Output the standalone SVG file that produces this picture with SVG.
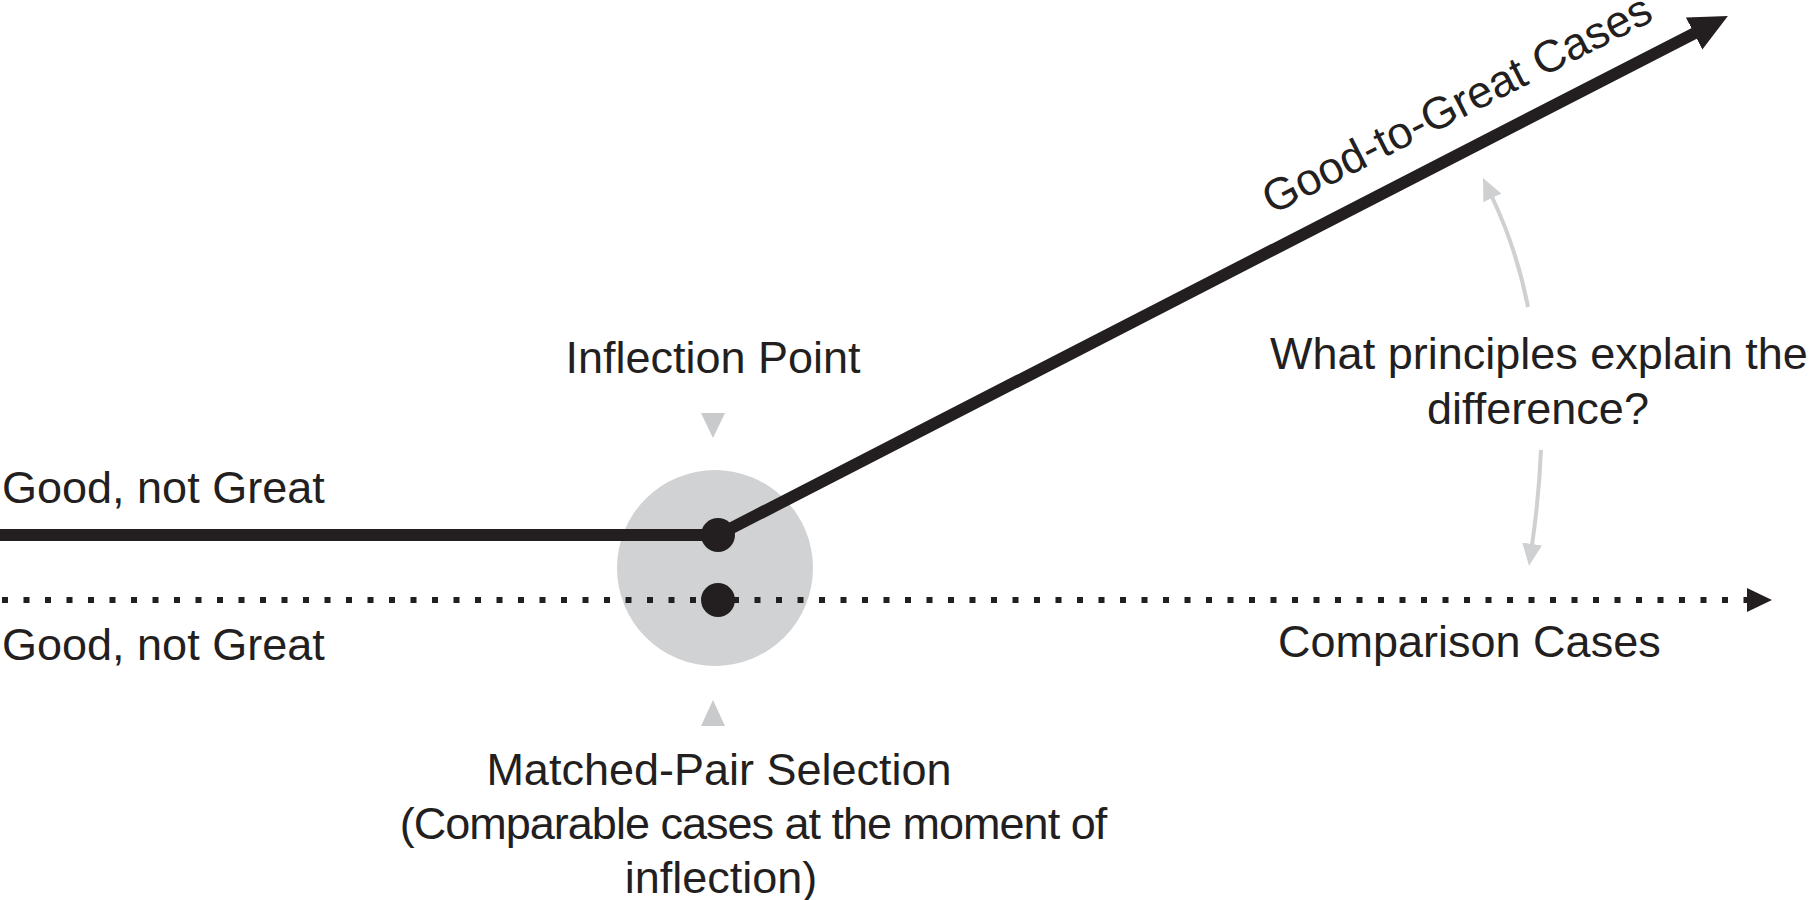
<svg xmlns="http://www.w3.org/2000/svg" width="1809" height="900" viewBox="0 0 1809 900">
<style>
text{font-family:"Liberation Sans",Arial,sans-serif;font-size:45px;fill:#231f20}
.mid{text-anchor:middle}
.solid{fill:none;stroke:#231f20;stroke-width:12}
.dotted{fill:none;stroke:#231f20;stroke-width:6;stroke-dasharray:6 15.5}
.gray{fill:none;stroke:#cfd0d2;stroke-width:4}
.tri{fill:#c9cacc}
.dot{fill:#231f20}
</style>
<defs>
<marker id="ahBlack" markerUnits="userSpaceOnUse" markerWidth="40" markerHeight="38" viewBox="0 0 40 38" refX="1" refY="19" orient="auto">
<path d="M0,1 L38,19 L0,37 z" fill="#231f20"/>
</marker>
<marker id="ahDot" markerUnits="userSpaceOnUse" markerWidth="26" markerHeight="26" viewBox="0 0 26 26" refX="1" refY="13" orient="auto">
<path d="M0,1 L25,13 L0,25 z" fill="#231f20"/>
</marker>
<marker id="ahGray" markerUnits="userSpaceOnUse" markerWidth="24" markerHeight="22" viewBox="0 0 24 22" refX="1" refY="11" orient="auto">
<path d="M0,1 L22,11 L0,21 z" fill="#cfd0d2"/>
</marker>
</defs>
<rect width="1809" height="900" fill="#ffffff"/>
<g id="inflection-zone">
<circle cx="715" cy="568" r="98" fill="#d1d2d4"/>
</g>
<g id="connectors">
<path class="dotted" d="M2,600 L1748,600" marker-end="url(#ahDot)"/>
<path class="solid" d="M0,535 L718,535 L1695,33" stroke-linejoin="round" marker-end="url(#ahBlack)"/>
<path class="gray" d="M1528,307 Q1517,250 1492,197" marker-end="url(#ahGray)"/>
<path class="gray" d="M1541,450 Q1539,497 1532,545" marker-end="url(#ahGray)"/>
<polygon class="tri" points="701,413 725,413 713,438"/>
<polygon class="tri" points="701,726 725,726 713,700"/>
</g>
<g id="inflection-point">
<circle class="dot" cx="718" cy="535" r="17"/>
<text class="mid" x="713" y="373">Inflection Point</text>
</g>
<g id="matched-pair">
<circle class="dot" cx="718" cy="600" r="17"/>
<text class="mid" x="719" y="785">Matched-Pair Selection</text>
<text class="mid" x="753" y="839" letter-spacing="-1">(Comparable cases at the moment of</text>
<text class="mid" x="721" y="893">inflection)</text>
</g>
<g id="good-not-great-top">
<text x="2" y="503">Good, not Great</text>
</g>
<g id="good-not-great-bottom">
<text x="2" y="660">Good, not Great</text>
</g>
<g id="good-to-great">
<text x="1272" y="215" font-size="40" transform="rotate(-27 1272 215)">Good-to-Great Cases</text>
</g>
<g id="comparison">
<text x="1278" y="657">Comparison Cases</text>
</g>
<g id="question">
<text class="mid" x="1539" y="369">What principles explain the</text>
<text class="mid" x="1538" y="424">difference?</text>
</g>
</svg>
